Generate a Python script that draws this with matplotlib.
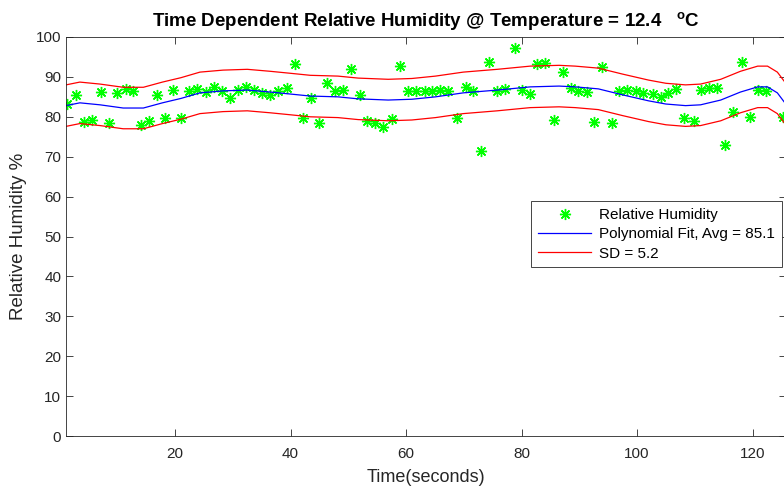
import numpy as np
import matplotlib.pyplot as plt

plt.rcParams['font.family'] = ['Liberation Sans', 'DejaVu Sans']
plt.rcParams['mathtext.fontset'] = 'custom'
plt.rcParams['mathtext.rm'] = 'Liberation Sans'
plt.rcParams['mathtext.bf'] = 'Liberation Sans:bold'

# -- measured relative humidity samples --
time_s = [1.3, 2.8, 4.2, 5.6, 7.2, 8.6, 10.0, 11.5, 12.7, 14.1, 15.5, 16.9, 18.3,
          19.7, 21.0, 22.4, 23.8, 25.4, 26.8, 28.1, 29.5, 30.9, 32.3, 33.7, 35.1,
          36.5, 37.9, 39.4, 40.8, 42.2, 43.6, 44.9, 46.3, 47.7, 49.1, 50.5, 52.1,
          53.3, 54.7, 56.0, 57.6, 59.0, 60.4, 61.8, 63.2, 64.5, 65.9, 67.3, 68.9,
          70.3, 71.6, 73.0, 74.4, 75.8, 77.2, 78.8, 80.1, 81.5, 82.7, 84.1, 85.7,
          87.1, 88.5, 89.8, 91.4, 92.6, 94.0, 95.6, 96.9, 98.3, 99.9, 101.1, 102.7,
          104.1, 105.4, 106.8, 108.2, 109.8, 111.0, 112.4, 113.9, 115.3, 116.7,
          118.1, 119.5, 121.0, 122.4, 125.2]
humidity = [83.2, 85.5, 78.7, 79.2, 86.2, 78.4, 86.0, 87.0, 86.5, 77.9, 78.9, 85.5,
            79.7, 86.7, 79.7, 86.5, 87.0, 86.2, 87.5, 86.5, 84.7, 86.7, 87.5, 86.7,
            86.0, 85.5, 86.5, 87.2, 93.2, 79.7, 84.7, 78.4, 88.5, 86.5, 86.7, 92.0,
            85.5, 78.9, 78.4, 77.4, 79.4, 92.7, 86.5, 86.5, 86.5, 86.5, 86.7, 86.5,
            79.7, 87.5, 86.5, 71.4, 93.7, 86.5, 87.0, 97.2, 86.7, 85.7, 93.2, 93.5,
            79.2, 91.2, 87.2, 86.5, 86.2, 78.7, 92.5, 78.4, 86.5, 86.7, 86.5, 86.0,
            85.7, 85.0, 86.0, 87.0, 79.7, 78.9, 86.7, 87.2, 87.2, 72.9, 81.2, 93.7,
            80.0, 86.7, 86.5, 80.0]

# -- polynomial fit curve --
fit_time = [1.1, 3.5, 7.0, 11.0, 14.5, 17.8, 21.0, 24.3, 28.3, 32.5, 36.5, 40.0,
            43.4, 48.2, 51.7, 56.9, 61.0, 65.1, 69.9, 75.8, 81.5, 86.5, 89.3, 93.3,
            97.5, 102.0, 105.0, 108.4, 111.0, 114.5, 117.9, 120.9, 122.6, 124.3, 125.5]
fit_rh = [82.8, 83.5, 83.0, 82.2, 82.2, 83.5, 84.6, 86.0, 86.5, 86.7, 86.2, 85.7,
          85.2, 85.0, 84.5, 84.2, 84.4, 85.0, 86.0, 86.7, 87.5, 87.7, 87.5, 87.0,
          85.5, 84.0, 83.2, 82.8, 83.0, 84.2, 86.2, 87.5, 87.5, 86.0, 83.7]
fit_avg = 85.1
sd = 5.2

fit_time = np.array(fit_time)
fit_rh = np.array(fit_rh)

fig = plt.figure(figsize=(7.84, 4.87), dpi=100)
ax = fig.add_axes([66 / 784, 51 / 487, 720 / 784, 399 / 487])

ax.plot(time_s, humidity, linestyle='none', marker=(8, 2, 0), markersize=8,
        markeredgewidth=1.0, color=(0, 1, 0), label='Relative Humidity')
ax.plot(fit_time, fit_rh, color='blue', linewidth=0.9,
        label=f'Polynomial Fit, Avg = {fit_avg}')
ax.plot(fit_time, fit_rh + sd, color='red', linewidth=0.9, label=f'SD = {sd}')
ax.plot(fit_time, fit_rh - sd, color='red', linewidth=0.9)

ax.set_xlim(1.1, 125.8)
ax.set_ylim(0, 100)
ax.set_xticks([20, 40, 60, 80, 100, 120])
ax.set_yticks(np.arange(0, 101, 10))
ax.tick_params(direction='in', top=True, right=True, labelsize=11,
               colors='#262626', length=5, width=0.6)
ax.tick_params(axis='x', pad=8)
for s in ax.spines.values():
    s.set_color('#262626')
    s.set_linewidth(0.6)

ax.set_xlabel('Time(seconds)', fontsize=13, color='#262626', labelpad=6)
ax.set_ylabel('Relative Humidity %', fontsize=13.5, color='#262626', labelpad=6)
ax.set_title(r'Time Dependent Relative Humidity @ Temperature = 12.4   $^{\mathbf{o}}$C',
             fontsize=13.5, fontweight='bold', pad=7)

leg = ax.legend(loc='upper left', bbox_to_anchor=(531 / 784, 1 - 201 / 487),
                bbox_transform=fig.transFigure, fontsize=11, fancybox=False,
                framealpha=1, edgecolor='#262626', borderpad=0.45,
                labelspacing=0.35, handlelength=3.5, handletextpad=0.5,
                borderaxespad=0)
leg.get_frame().set_linewidth(0.6)

fig.savefig('out.png', dpi=100)
